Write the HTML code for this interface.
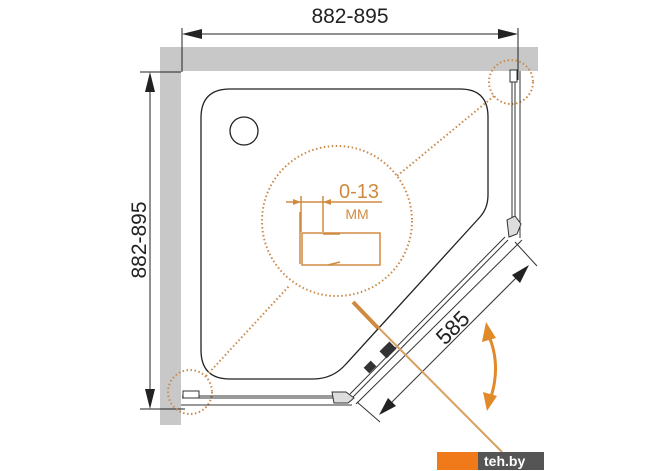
<!DOCTYPE html>
<html><head><meta charset="utf-8"><style>
html,body{margin:0;padding:0;background:#fff;}
svg{display:block;}
text{font-family:"Liberation Sans",sans-serif;}
</style></head><body>
<svg width="670" height="471" viewBox="0 0 670 471" xmlns="http://www.w3.org/2000/svg">
<rect width="670" height="471" fill="#fff"/>
<!-- walls -->
<rect x="160" y="47" width="378" height="24" fill="#c8c8c8"/>
<rect x="160" y="47" width="21" height="378" fill="#c8c8c8"/>
<!-- top dimension -->
<line x1="182" y1="28" x2="182" y2="72" stroke="#222" stroke-width="1"/>
<line x1="518" y1="28" x2="518" y2="80" stroke="#222" stroke-width="1"/>
<line x1="190" y1="34" x2="510" y2="34" stroke="#222" stroke-width="1"/>
<polygon points="182,34 202,29 202,39" fill="#222"/>
<polygon points="518,34 498,29 498,39" fill="#222"/>
<text x="350" y="23" font-size="21" text-anchor="middle" fill="#222">882-895</text>
<!-- left dimension -->
<line x1="140" y1="72" x2="181" y2="72" stroke="#222" stroke-width="1"/>
<line x1="140" y1="409" x2="185" y2="409" stroke="#222" stroke-width="1"/>
<line x1="150" y1="80" x2="150" y2="400" stroke="#222" stroke-width="1"/>
<polygon points="150,72 145,92 155,92" fill="#222"/>
<polygon points="150,409 145,389 155,389" fill="#222"/>
<text x="0" y="0" font-size="21" text-anchor="middle" fill="#222" transform="translate(146,240) rotate(-90)">882-895</text>
<!-- tray -->
<path d="M230,89 L460,89 Q488,89 488,117 L488,195 Q488,208 480,217 L346,364 Q333,379 313,379 L230,379 Q201,379 201,350 L201,118 Q201,89 230,89 Z" fill="none" stroke="#222" stroke-width="1.3"/>
<circle cx="244" cy="131" r="14" fill="none" stroke="#222" stroke-width="1.3"/>
<!-- dotted circles and lines -->
<g stroke="#c98a4a" stroke-width="2" stroke-dasharray="1.5 2.5" fill="none">
<circle cx="337" cy="221" r="75"/>
<circle cx="511" cy="82" r="22"/>
<circle cx="190" cy="392" r="22"/>
<line x1="494" y1="96" x2="397" y2="176"/>
<line x1="206" y1="376" x2="290" y2="285"/>
</g>
<!-- detail in circle -->
<g stroke="#d08a40" stroke-width="1.5" fill="none">
<line x1="286" y1="202" x2="382" y2="202"/>
<line x1="301" y1="196" x2="301" y2="232"/>
<line x1="323" y1="196" x2="323" y2="232"/>
<line x1="300" y1="212" x2="300" y2="264"/>
<rect x="302" y="233" width="78" height="32"/>
<line x1="323" y1="234" x2="340" y2="234"/>
<line x1="328" y1="265" x2="340" y2="262"/>
</g>
<polygon points="301,202 293,199 293,205" fill="#d08a40"/>
<polygon points="323,202 331,199 331,205" fill="#d08a40"/>
<text x="359" y="198" font-size="20" text-anchor="middle" fill="#d08a40">0-13</text>
<text x="357" y="219" font-size="14" text-anchor="middle" fill="#d08a40">MM</text>
<!-- right glass -->
<g stroke="#333" stroke-width="1" fill="none">
<line x1="512" y1="73" x2="512" y2="225"/>
<line x1="515" y1="73" x2="515" y2="225"/>
<line x1="520" y1="71" x2="520" y2="238"/>
<rect x="510" y="70" width="7" height="12" fill="#fff"/>
<path d="M507,220 l8,-4 l6,8 l-4,10 l-8,3 z" fill="#ddd"/>
<!-- bottom glass -->
<line x1="182" y1="396" x2="335" y2="396"/>
<line x1="182" y1="398" x2="335" y2="398"/>
<line x1="181" y1="405" x2="352" y2="405"/>
<rect x="183" y="391" width="16" height="7" fill="#fff"/>
<path d="M332,392 l14,0 l8,6 l-6,5 l-14,0 z" fill="#ddd"/>
<!-- diagonal door -->
<line x1="350" y1="394" x2="505" y2="237"/>
<line x1="353" y1="397" x2="508" y2="240"/>
<line x1="356" y1="404" x2="522" y2="240"/>
<!-- 585 dimension -->
<line x1="515" y1="242" x2="537" y2="266"/>
<line x1="357" y1="402" x2="380" y2="422"/>
<line x1="386" y1="408" x2="522" y2="272"/>
</g>
<polygon points="529,265 512,275 520,283" fill="#222"/>
<polygon points="379,415 388,398 396,406" fill="#222"/>
<rect x="383" y="343" width="10" height="14" fill="#333" transform="rotate(45 388 350)"/>
<rect x="366" y="362" width="8" height="10" fill="#333" transform="rotate(45 370 367)"/>
<text x="0" y="0" font-size="22" text-anchor="middle" fill="#222" transform="translate(458,333) rotate(-45)">585</text>
<!-- orange handle -->
<line x1="356" y1="305" x2="502" y2="452" stroke="#d8a060" stroke-width="2"/>
<line x1="353" y1="302" x2="378" y2="328" stroke="#d08a40" stroke-width="4"/>
<!-- curved arrow -->
<path d="M488,334 Q502,365 490,400" fill="none" stroke="#e08a2a" stroke-width="3"/>
<polygon points="486,322 482,342 496,338" fill="#e08a2a"/>
<polygon points="487,411 483,392 497,396" fill="#e08a2a"/>
<!-- logo -->
<rect x="437" y="452" width="42" height="18" fill="#f07a1a"/>
<rect x="478" y="452" width="66" height="18" fill="#555"/>
<text x="484" y="466" font-size="14" font-weight="bold" fill="#fff">teh.by</text>
</svg>
</body></html>
